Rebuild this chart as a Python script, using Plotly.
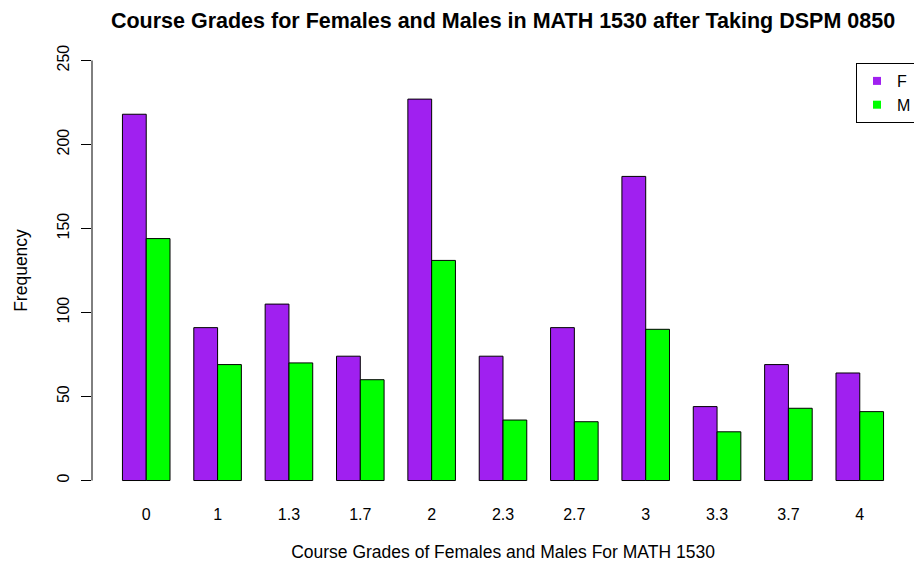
import plotly.graph_objects as go

grades = ["0", "1", "1.3", "1.7", "2", "2.3", "2.7", "3", "3.3", "3.7", "4"]
female = [218, 91, 105, 74, 227, 74, 91, 181, 44, 69, 64]
male = [144, 69, 70, 60, 131, 36, 35, 90, 29, 43, 41]
y_ticks = [0, 50, 100, 150, 200, 250]

PURPLE = "#A020F0"
GREEN = "#00FF00"
FONT = "Arial, Liberation Sans, sans-serif"

fig = go.Figure()
fig.add_trace(go.Bar(x=grades, y=female, name="F", marker=dict(color=PURPLE, line=dict(color="black", width=1)), showlegend=False))
fig.add_trace(go.Bar(x=grades, y=male, name="M", marker=dict(color=GREEN, line=dict(color="black", width=1)), showlegend=False))
# legend keys (small squares, like R's legend with fill)
fig.add_trace(go.Scatter(x=[None], y=[None], mode="markers", name="F",
                         marker=dict(symbol="square", size=8, color=PURPLE)))
fig.add_trace(go.Scatter(x=[None], y=[None], mode="markers", name="M",
                         marker=dict(symbol="square", size=8, color=GREEN)))

fig.update_layout(
    width=914, height=569,
    margin=dict(l=92, r=0, t=43, b=71, autoexpand=False),
    paper_bgcolor="white", plot_bgcolor="white",
    font=dict(family=FONT, size=16, color="black"),
    barmode="group", bargap=1/3, bargroupgap=0,
    title=dict(text="<b>Course Grades for Females and Males in MATH 1530 after Taking DSPM 0850</b>",
               x=0.5, xref="paper", y=1 - 20/569, yref="container", yanchor="middle",
               font=dict(family=FONT, size=21.5, color="black")),
    xaxis=dict(type="category", range=[-0.76, 10.76], showline=False, showgrid=False,
               zeroline=False, ticks="", ticklabelstandoff=5,
               title=dict(text="Course Grades of Females and Males For MATH 1530", standoff=23,
                          font=dict(size=17.5))),
    yaxis=dict(range=[-10.4, 260.4], tickvals=y_ticks, ticktext=[str(v) for v in y_ticks],
               tickangle=-90, ticks="outside", ticklen=10, tickcolor="black", tickwidth=1,
               showline=False, showgrid=False, zeroline=False, ticklabelstandoff=6,
               title=dict(text="Frequency", standoff=22, font=dict(size=17.5))),
    legend=dict(x=856/914, xanchor="left", xref="container", y=1 - 63/569, yanchor="top", yref="container",
                bordercolor="black", borderwidth=1, bgcolor="white",
                font=dict(size=16), itemwidth=30, tracegroupgap=0),
    shapes=[dict(type="line", xref="paper", yref="y", x0=0, x1=0, y0=0, y1=250,
                 line=dict(color="black", width=1))],
)

fig.write_html("out.html", post_script="document.body.style.margin='0';",
               config={"displayModeBar": False})
